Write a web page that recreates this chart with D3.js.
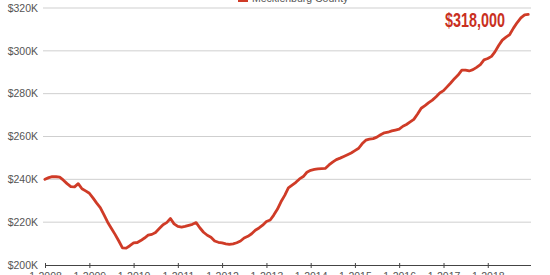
<!DOCTYPE html>
<meta charset="utf-8" />
<script src="https://d3js.org/d3.v7.min.js"></script>
<style>
  body { margin: 0; background: #fff; }
  svg { display: block; font-family: "Liberation Sans", Arial, sans-serif; }
</style>
<div id="chart"></div>
<script>
  // monthly median sale price, thousands of dollars, Jan 2008 - Dec 2018
  var seriesName = "Mecklenburg County";
  var firstMonth = "2008-01";
  var price2008 = [240.0, 240.8, 241.3, 241.2, 241.0, 239.6, 238.0, 236.6, 236.5, 238.0, 235.6, 234.6];
  var price2009 = [233.5, 231.2, 229.0, 226.8, 223.5, 220.0, 217.2, 214.3, 211.2, 208.0, 207.9, 209.0];
  var price2010 = [210.3, 210.5, 211.4, 212.6, 213.9, 214.3, 215.2, 217.0, 218.8, 219.8, 221.7, 219.2];
  var price2011 = [218.0, 217.7, 218.0, 218.5, 219.0, 219.8, 217.4, 215.3, 213.9, 213.0, 211.2, 210.6];
  var price2012 = [210.3, 209.9, 209.6, 209.9, 210.4, 211.2, 212.6, 213.4, 214.6, 216.2, 217.3, 218.6];
  var price2013 = [220.3, 221.0, 223.2, 226.0, 229.5, 232.5, 236.0, 237.3, 238.6, 240.2, 241.3, 243.3];
  var price2014 = [244.2, 244.6, 244.9, 245.0, 245.1, 246.7, 248.0, 249.2, 249.9, 250.7, 251.5, 252.3];
  var price2015 = [253.4, 254.5, 256.6, 258.3, 258.8, 259.0, 259.7, 260.8, 261.7, 262.0, 262.6, 263.0];
  var price2016 = [263.4, 264.8, 265.6, 266.8, 268.0, 270.5, 273.2, 274.4, 275.8, 277.0, 278.6, 280.3];
  var price2017 = [281.4, 283.3, 285.0, 287.0, 288.7, 291.0, 291.0, 290.6, 291.2, 292.3, 293.6, 295.8];
  var price2018 = [296.4, 297.4, 299.5, 302.5, 305.0, 306.4, 307.6, 310.6, 313.2, 315.4, 316.8, 317.0];
  var yTicks = [200, 220, 240, 260, 280, 300, 320];
  var xTickYears = [2008, 2009, 2010, 2011, 2012, 2013, 2014, 2015, 2016, 2017, 2018];
  var calloutText = "$318,000";

  var width = 550, height = 275;
  var lineColor = "#cf3b27";

  var svg = d3.select("#chart").append("svg")
    .attr("width", width)
    .attr("height", height);

  var prices = [].concat(price2008, price2009, price2010, price2011, price2012,
    price2013, price2014, price2015, price2016, price2017, price2018);
  var start = d3.timeParse("%Y-%m")(firstMonth);
  var data = prices.map(function (v, i) {
    return { date: d3.timeMonth.offset(start, i), value: v };
  });

  var x = d3.scaleTime()
    .domain([new Date(2008, 0, 1), new Date(2019, 0, 1)])
    .range([45, 532]);
  var y = d3.scaleLinear()
    .domain([200, 320])
    .range([265, 8]);

  // horizontal gridlines + dollar labels
  var grid = svg.append("g");
  grid.selectAll("line")
    .data(yTicks.slice(1))
    .join("line")
    .attr("x1", 43).attr("x2", 531)
    .attr("y1", function (d) { return y(d); })
    .attr("y2", function (d) { return y(d); })
    .attr("stroke", "#cfcfcf")
    .attr("stroke-width", 1);
  grid.selectAll("text")
    .data(yTicks)
    .join("text")
    .attr("x", 38)
    .attr("y", function (d) { return y(d); })
    .attr("dy", "0.35em")
    .attr("text-anchor", "end")
    .attr("font-size", 10.5)
    .attr("fill", "#555")
    .text(function (d) { return "$" + d + "K"; });

  // x axis
  var xAxis = svg.append("g")
    .attr("transform", "translate(0," + y(200) + ")")
    .call(d3.axisBottom(x)
      .tickValues(xTickYears.map(function (yr) { return new Date(yr, 0, 1); }))
      .tickSize(3)
      .tickPadding(5)
      .tickFormat(d3.timeFormat("1-%Y")));
  xAxis.select(".domain").attr("stroke", "#444").attr("d", "M45,0.5H531");
  xAxis.selectAll(".tick line").attr("stroke", "#444").attr("y1", -2);
  xAxis.selectAll(".tick text")
    .attr("font-size", 10.5)
    .attr("fill", "#555")
    .attr("font-family", "Liberation Sans, Arial, sans-serif");

  // price line
  var line = d3.line()
    .x(function (d) { return x(d.date); })
    .y(function (d) { return y(d.value); });
  svg.append("path")
    .datum(data)
    .attr("d", line)
    .attr("fill", "none")
    .attr("stroke", lineColor)
    .attr("stroke-width", 2.8)
    .attr("stroke-linejoin", "round")
    .attr("stroke-linecap", "round");

  // legend (cut off at top edge)
  var legend = svg.append("g");
  legend.append("rect")
    .attr("x", 238).attr("y", -4)
    .attr("width", 10).attr("height", 6)
    .attr("fill", lineColor);
  legend.append("text")
    .attr("x", 252).attr("y", 1.5)
    .attr("font-size", 10.5)
    .attr("fill", "#555")
    .text(seriesName);

  // callout value, squeezed to look like a condensed bold face
  svg.append("text")
    .attr("x", 445).attr("y", 26.5)
    .attr("font-family", "'Liberation Sans', Arial, sans-serif")
    .attr("font-weight", "bold")
    .attr("font-size", 21)
    .attr("textLength", 60)
    .attr("lengthAdjust", "spacingAndGlyphs")
    .attr("fill", "#c9301f")
    .text(calloutText);
</script>
